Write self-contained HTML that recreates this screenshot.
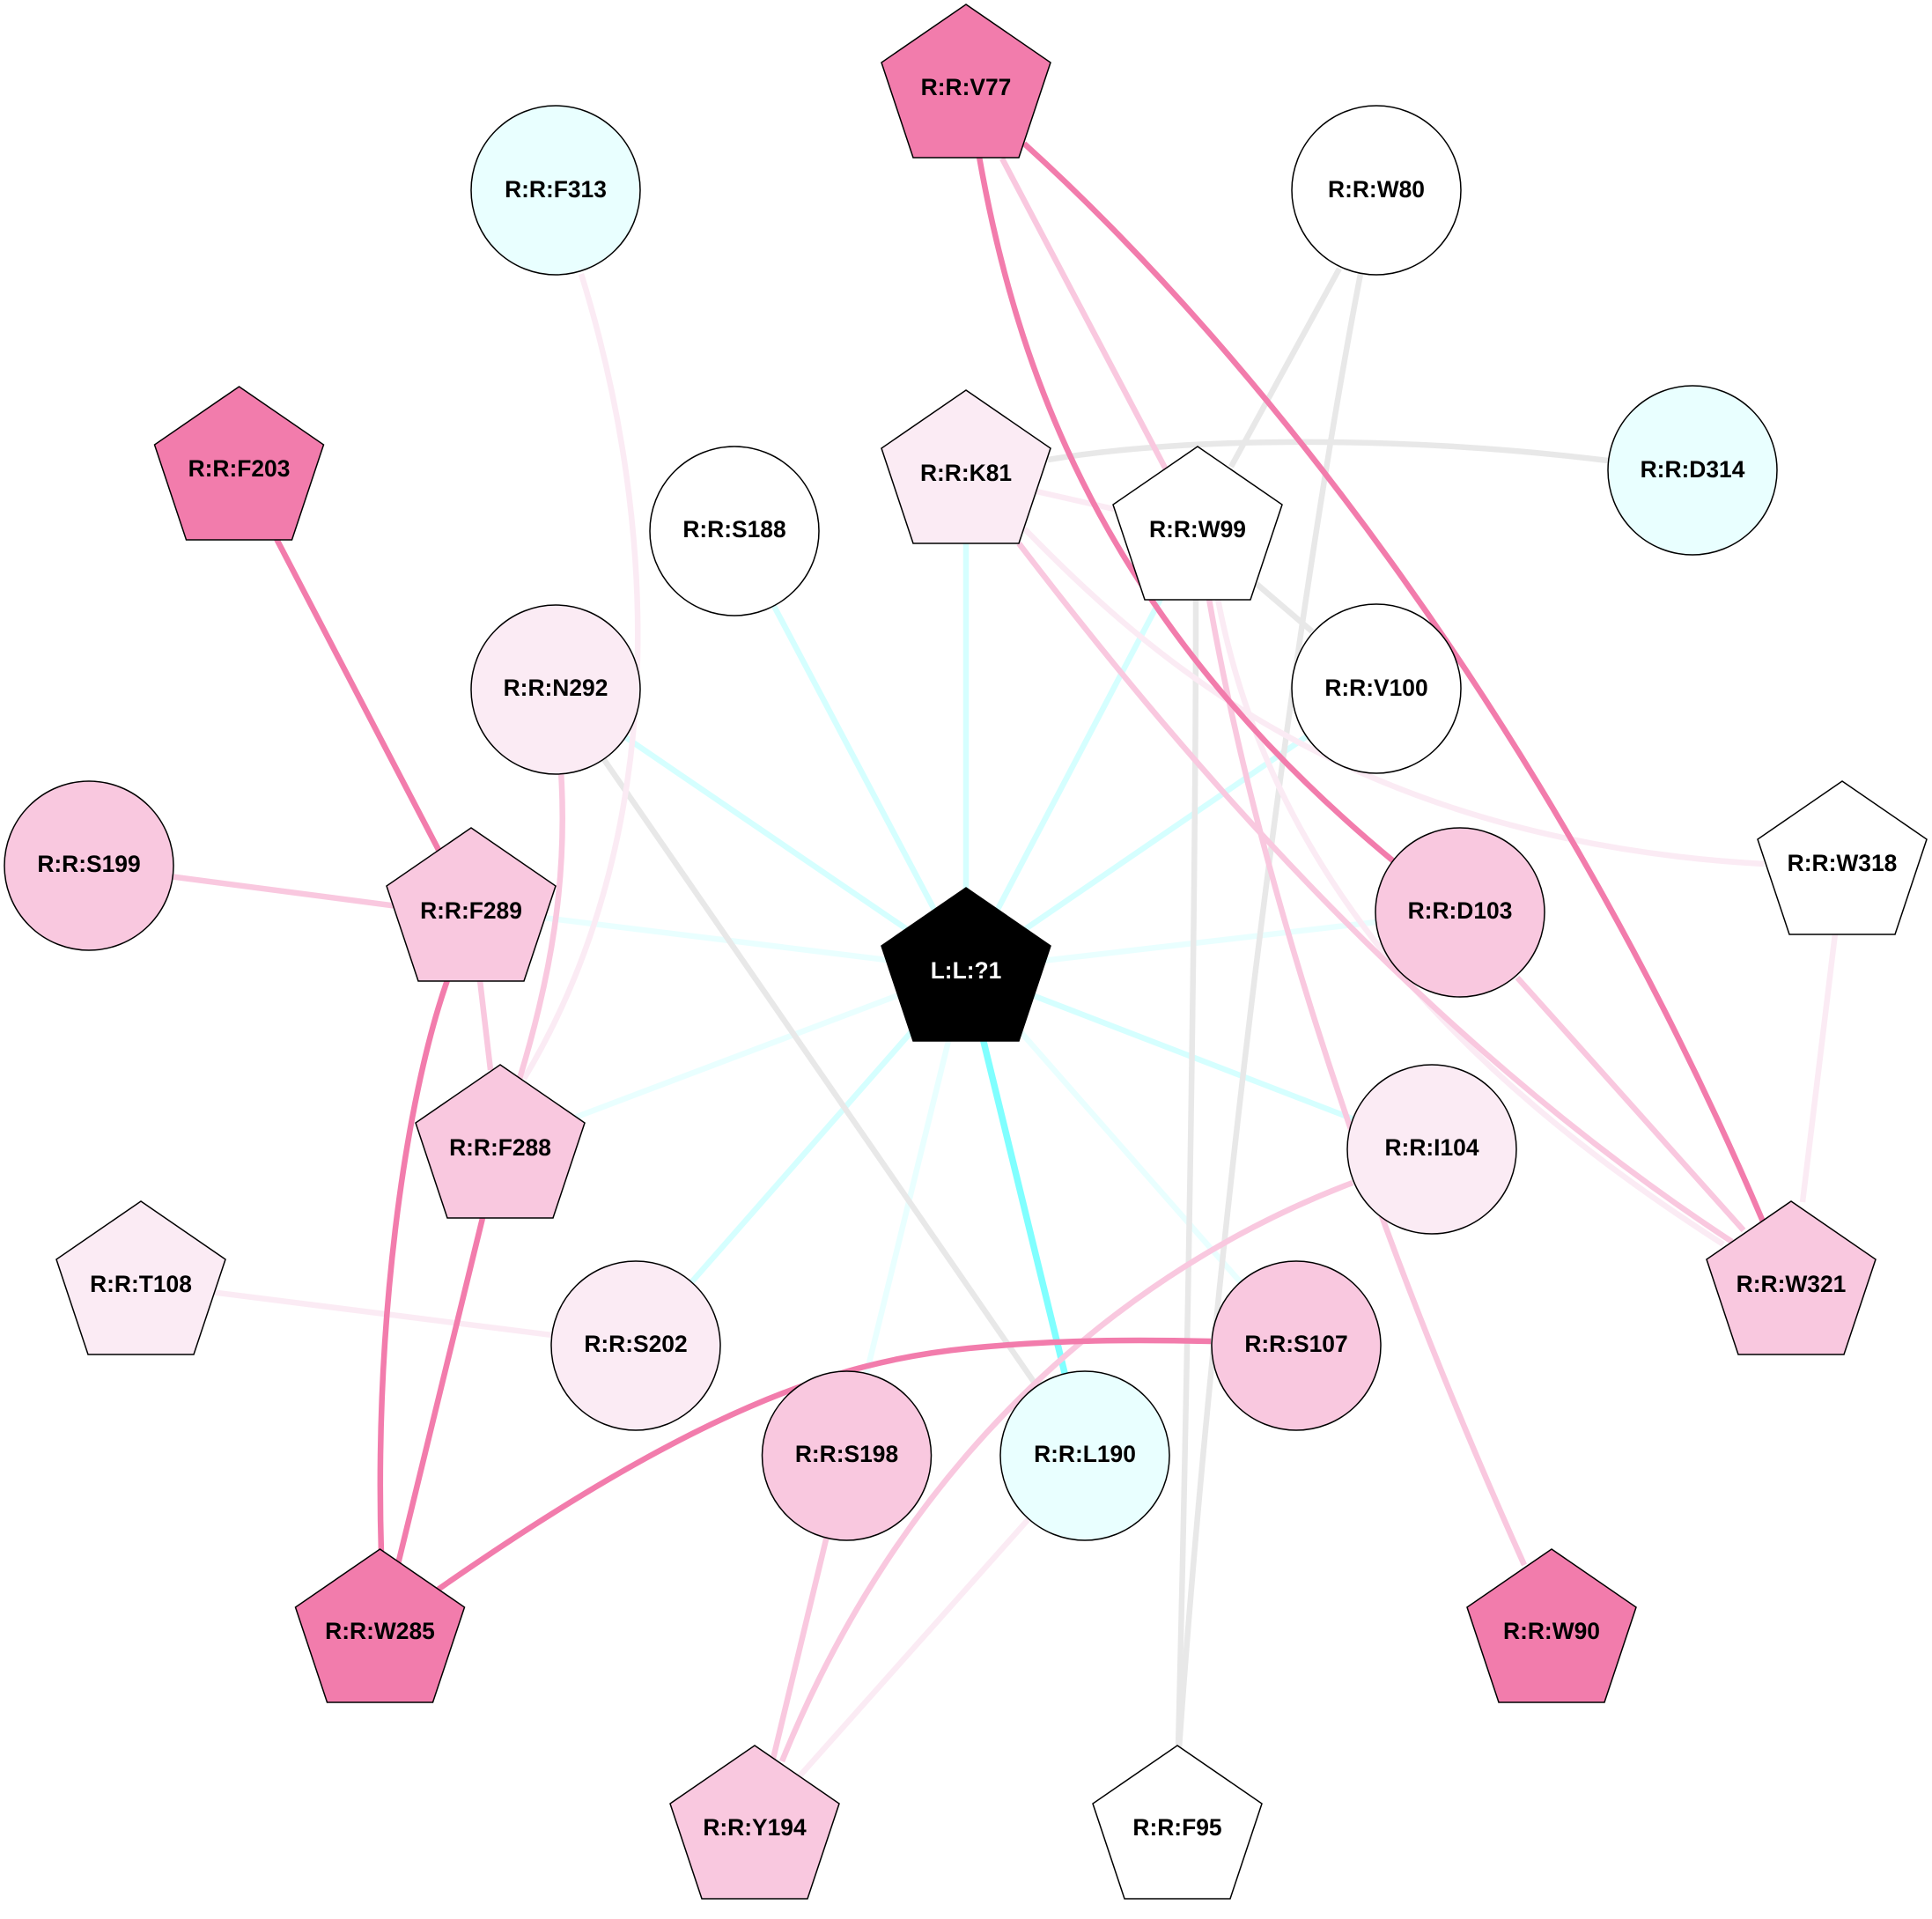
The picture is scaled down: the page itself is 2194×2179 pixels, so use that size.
<!DOCTYPE html>
<html><head><meta charset="utf-8"><style>
html,body{margin:0;padding:0;background:#fff}
svg{display:block}
text{font-family:"Liberation Sans",sans-serif;font-weight:bold;font-size:26.4px;text-anchor:middle;fill:#000}
.e{fill:none;stroke-width:6.5}
.s{stroke:#f27cac}.l{stroke:#f9c8df}.v{stroke:#fbebf4}.g{stroke:#e8e8e8}
.c{stroke:#d5ffff}.d{stroke:#e9ffff}.a{stroke:#80ffff;stroke-width:7.5}
.n{stroke:#000;stroke-width:1.5}
</style></head><body>
<svg width="2194" height="2179" viewBox="0 0 2194 2179" xmlns="http://www.w3.org/2000/svg">
<rect width="2194" height="2179" fill="#fff"/>
<defs><polygon id="p" points="0,0 96,66 60,174 -60,174 -96,66"/></defs>
<!-- spokes -->
<path class="e c" d="M1097,1101L1097,536"/>
<path class="e c" d="M1097,1101L834,603"/>
<path class="e c" d="M1097,1101L1360,600"/>
<path class="e c" d="M1097,1101L1563,782"/>
<path class="e c" d="M1097,1101L631,783"/>
<path class="e d" d="M1097,1101L535,1032"/>
<path class="e d" d="M1097,1101L1658,1036"/>
<path class="e d" d="M1097,1101L568,1301"/>
<path class="e c" d="M1097,1101L1626,1305"/>
<path class="e c" d="M1097,1101L722,1528"/>
<path class="e d" d="M1097,1101L961,1653"/>
<path class="e a" d="M1097,1101L1232,1653"/>
<path class="e d" d="M1097,1101L1472,1528"/>
<!-- gray -->
<path class="e g" d="M1190,522C1350,495 1600,495 1826,523"/>
<path class="e g" d="M1521,305L1398,530"/>
<path class="e g" d="M1545,311C1470,700 1380,1400 1339,1985"/>
<path class="e g" d="M1358,680C1358,1000 1350,1500 1338,1985"/>
<path class="e g" d="M1427,663L1490,717"/>
<path class="e g" d="M631,783L1232,1653"/>
<!-- very light -->
<path class="e v" d="M660,311C750,600 760,950 595,1225"/>
<path class="e v" d="M1177,558L1265,578"/>
<path class="e v" d="M1163,600C1300,740 1530,955 2003,981"/>
<path class="e v" d="M1383,680C1440,980 1640,1210 1957,1413"/>
<path class="e v" d="M2084,1060L2047,1365"/>
<path class="e v" d="M160,1457L722,1528"/>
<path class="e v" d="M1232,1653L857,2074"/>
<!-- light -->
<path class="e l" d="M1138,180L1325,535"/>
<path class="e l" d="M1373,680C1420,950 1530,1330 1731,1777"/>
<path class="e l" d="M1157,617C1320,830 1600,1170 1967,1410"/>
<path class="e l" d="M1723,1110L1980,1397"/>
<path class="e l" d="M637,875C645,1000 625,1110 590,1225"/>
<path class="e l" d="M101,983L535,1040"/>
<path class="e l" d="M545,1113L557,1215"/>
<path class="e l" d="M1536,1343C1280,1440 1030,1650 888,2000"/>
<path class="e l" d="M961,1653L870,2030"/>
<!-- strong -->
<path class="e s" d="M1163,163C1425,400 1765,830 2002,1387"/>
<path class="e s" d="M1112,178C1160,450 1270,720 1585,980"/>
<path class="e s" d="M313,610L498,965"/>
<path class="e s" d="M508,1113C460,1250 425,1500 433,1765"/>
<path class="e s" d="M548,1383L451,1780"/>
<path class="e s" d="M1375,1523C1290,1521 1202,1521 1100,1531C950,1546 790,1600 490,1810"/>
<!-- nodes -->
<g class="n">
<circle cx="631" cy="216" r="96" fill="#e9ffff"/>
<circle cx="1563" cy="216" r="96" fill="#fff"/>
<circle cx="1922" cy="534" r="96" fill="#e9ffff"/>
<circle cx="834" cy="603" r="96" fill="#fff"/>
<circle cx="631" cy="783" r="96" fill="#fbebf4"/>
<circle cx="1563" cy="782" r="96" fill="#fff"/>
<circle cx="101" cy="983" r="96" fill="#f9c8df"/>
<circle cx="1658" cy="1036" r="96" fill="#f9c8df"/>
<circle cx="1626" cy="1305" r="96" fill="#fbebf4"/>
<circle cx="722" cy="1528" r="96" fill="#fbebf4"/>
<circle cx="1472" cy="1528" r="96" fill="#f9c8df"/>
<circle cx="961.500" cy="1653" r="96" fill="#f9c8df"/>
<circle cx="1232" cy="1653" r="96" fill="#e9ffff"/>
<use href="#p" x="1097" y="5" fill="#f27cac"/>
<use href="#p" x="271.500" y="439" fill="#f27cac"/>
<use href="#p" x="1097" y="443" fill="#fbebf4"/>
<use href="#p" x="1360" y="507" fill="#fff"/>
<use href="#p" x="2092" y="887" fill="#fff"/>
<use href="#p" x="535" y="940" fill="#f9c8df"/>
<use href="#p" x="1097" y="1008" fill="#000"/>
<use href="#p" x="568" y="1209" fill="#f9c8df"/>
<use href="#p" x="2034" y="1364" fill="#f9c8df"/>
<use href="#p" x="160" y="1364" fill="#fbebf4"/>
<use href="#p" x="431.500" y="1759" fill="#f27cac"/>
<use href="#p" x="1762" y="1759" fill="#f27cac"/>
<use href="#p" x="857" y="1982" fill="#f9c8df"/>
<use href="#p" x="1337" y="1982" fill="#fff"/>
</g>
<text x="631" y="224">R:R:F313</text>
<text x="1563" y="224">R:R:W80</text>
<text x="1922" y="542">R:R:D314</text>
<text x="834" y="610">R:R:S188</text>
<text x="631" y="790">R:R:N292</text>
<text x="1563" y="790">R:R:V100</text>
<text x="101" y="990">R:R:S199</text>
<text x="1658" y="1043">R:R:D103</text>
<text x="1626" y="1312">R:R:I104</text>
<text x="722" y="1535">R:R:S202</text>
<text x="1472" y="1535">R:R:S107</text>
<text x="961.500" y="1660">R:R:S198</text>
<text x="1232" y="1660">R:R:L190</text>
<text x="1097" y="108">R:R:V77</text>
<text x="271.500" y="541">R:R:F203</text>
<text x="1097" y="546">R:R:K81</text>
<text x="1360" y="610">R:R:W99</text>
<text x="2092" y="989">R:R:W318</text>
<text x="535" y="1043">R:R:F289</text>
<text x="1097" y="1111" style="fill:#fff">L:L:?1</text>
<text x="568" y="1312">R:R:F288</text>
<text x="2034" y="1467">R:R:W321</text>
<text x="160" y="1467">R:R:T108</text>
<text x="431.500" y="1861">R:R:W285</text>
<text x="1762" y="1861">R:R:W90</text>
<text x="857" y="2084">R:R:Y194</text>
<text x="1337" y="2084">R:R:F95</text>
</svg>
</body></html>
